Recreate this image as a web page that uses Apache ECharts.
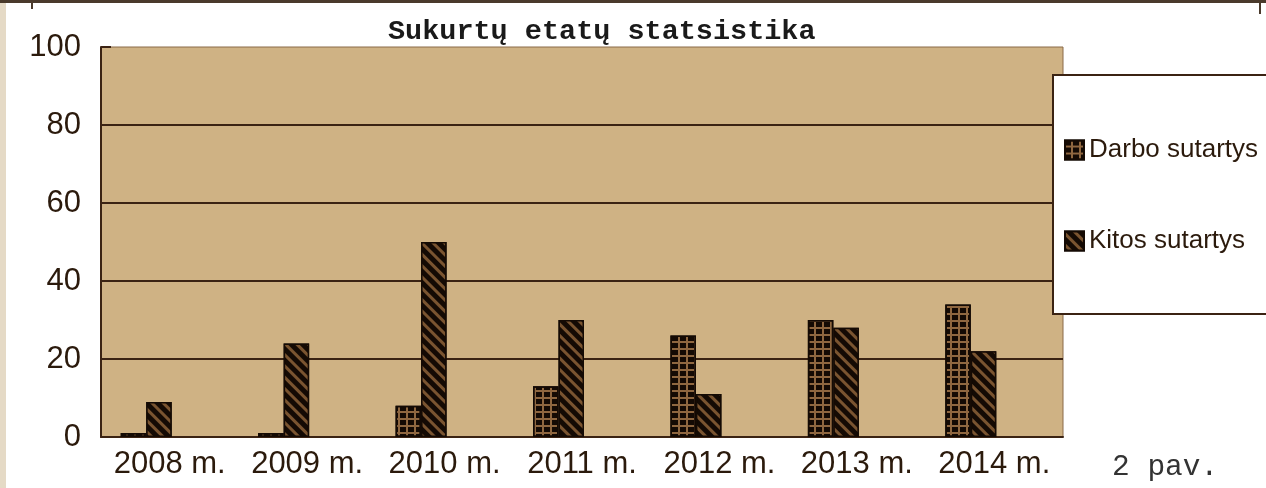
<!DOCTYPE html>
<html lang="lt">
<head>
    <meta charset="UTF-8">
    <title>Sukurtų etatų statsistika</title>
    <script src="https://cdn.jsdelivr.net/npm/echarts@6/dist/echarts.min.js"></script>
    <style>
        html, body {
            margin: 0;
            padding: 0;
            background: #ffffff;
        }
        #chart {
            width: 1266px;
            height: 488px;
        }
    </style>
</head>
<body>
    <div id="chart"></div>
    <script>
        // duomenys
        const years = ['2008 m.', '2009 m.', '2010 m.', '2011 m.', '2012 m.', '2013 m.', '2014 m.'];
        const darbo = [1, 1, 8, 13, 26, 30, 34];
        const kitos = [9, 24, 50, 30, 11, 28, 22];
        const seriesNames = ['Darbo sutartys', 'Kitos sutartys'];

        const dark = '#140a04';
        const lineColor = '#3b2313';
        const textColor = '#2b1a0c';

        const chart = echarts.init(document.getElementById('chart'));
        const option = {
            animation: false,
            aria: { enabled: true, decal: { show: true } },
            title: {
                text: 'Sukurtų etatų statsistika',
                left: 383,
                top: 12,
                textStyle: {
                    fontFamily: 'Liberation Mono',
                    fontWeight: 'bold',
                    fontSize: 28.5,
                    color: '#1a1a1a'
                }
            },
            legend: {
                orient: 'vertical',
                left: 1053,
                top: 75,
                data: seriesNames,
                icon: 'rect',
                backgroundColor: '#ffffff',
                borderColor: lineColor,
                borderWidth: 2,
                borderRadius: 0,
                padding: [62, 80, 60, 11],
                itemGap: 65,
                itemWidth: 19,
                itemHeight: 19,
                textStyle: {
                    fontFamily: 'Liberation Sans',
                    fontSize: 26,
                    color: textColor
                }
            },
            grid: {
                left: 101,
                right: 203,
                top: 47,
                bottom: 51,
                show: true,
                backgroundColor: '#cfb284',
                borderColor: '#8a6a48',
                borderWidth: 1
            },
            xAxis: {
                type: 'category',
                data: years,
                axisLine: { lineStyle: { color: lineColor, width: 2 } },
                axisTick: { inside: true, length: 9, lineStyle: { color: lineColor, width: 2 } },
                axisLabel: {
                    fontFamily: 'Liberation Sans',
                    fontSize: 31,
                    color: textColor,
                    margin: 12,
                    interval: 0
                }
            },
            yAxis: {
                type: 'value',
                min: 0,
                max: 100,
                interval: 20,
                axisLine: { show: true, lineStyle: { color: lineColor, width: 2 } },
                axisTick: { show: true, inside: true, length: 10, lineStyle: { color: lineColor, width: 2 } },
                splitLine: { show: true, showMaxLine: false, lineStyle: { color: lineColor, width: 2 } },
                axisLabel: {
                    fontFamily: 'Liberation Sans',
                    fontSize: 31,
                    color: textColor,
                    margin: 20
                }
            },
            series: [
                {
                    name: seriesNames[0],
                    type: 'bar',
                    data: darbo,
                    barWidth: 25.5,
                    barGap: 0,
                    itemStyle: {
                        color: '#8f6740',
                        borderColor: dark,
                        borderWidth: 1.5,
                        decal: {
                            symbol: 'rect',
                            symbolSize: 1,
                            rotation: 0,
                            color: dark,
                            dashArrayX: [[6, 1.4]],
                            dashArrayY: [4.6, 1.4]
                        }
                    }
                },
                {
                    name: seriesNames[1],
                    type: 'bar',
                    data: kitos,
                    barWidth: 25.5,
                    barGap: 0,
                    itemStyle: {
                        color: dark,
                        borderColor: dark,
                        borderWidth: 1.5,
                        decal: {
                            symbol: 'rect',
                            symbolSize: 1,
                            color: '#7a5430',
                            dashArrayX: [1, 0],
                            dashArrayY: [2.5, 4.5],
                            rotation: Math.PI / 4
                        }
                    }
                },
                {
                    // tuščia vieta dešinėje, kad stulpeliai būtų pasislinkę kairėn
                    name: 'spacer',
                    type: 'bar',
                    data: years.map(() => '-'),
                    barWidth: 47,
                    barGap: 0,
                    silent: true
                }
            ],
            graphic: [
                { type: 'rect', shape: { x: 0, y: 0, width: 6, height: 488 }, style: { fill: '#e5dac6' } },
                { type: 'rect', shape: { x: 0, y: 0, width: 1266, height: 3 }, style: { fill: '#4a3a2c' } },
                { type: 'rect', shape: { x: 31, y: 0, width: 2, height: 9 }, style: { fill: '#4a3a2c' } },
                { type: 'rect', shape: { x: 1259, y: 0, width: 2, height: 14 }, style: { fill: '#4a3a2c' } },
                {
                    type: 'text',
                    left: 1112,
                    top: 452,
                    style: {
                        text: '2 pav.',
                        font: '29.5px "Liberation Mono"',
                        fill: '#333'
                    }
                }
            ]
        };
        chart.setOption(option);
    </script>
</body>
</html>
